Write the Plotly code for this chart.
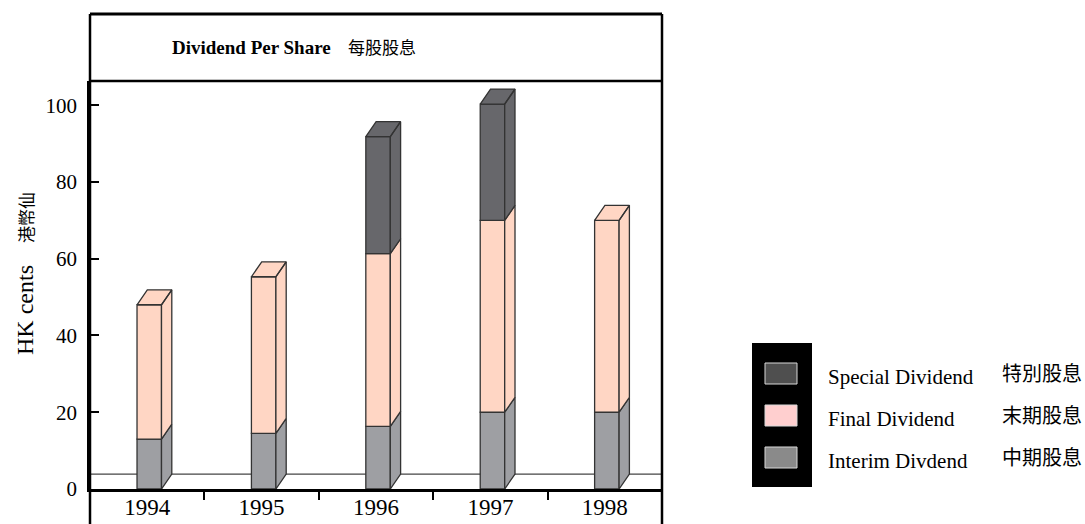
import plotly.graph_objects as go

# ---- data -------------------------------------------------------------
years = ["1994", "1995", "1996", "1997", "1998"]
interim = [13.0, 14.5, 16.3, 20.0, 20.0]      # HK cents
final = [35.0, 40.8, 45.0, 50.0, 50.0]
special = [0.0, 0.0, 30.5, 30.3, 0.0]
y_ticks = [0, 20, 40, 60, 80, 100]

legend_en = ["Special Dividend", "Final Dividend", "Interim Divdend"]
legend_zh = ["特別股息", "末期股息", "中期股息"]

# ---- style ------------------------------------------------------------
SERIF = "Liberation Serif, Times New Roman, serif"
CJK = "Noto Sans CJK TC, Noto Sans CJK SC, sans-serif"
EDGE = "#333333"
face_colors = {"interim": "#9e9fa3", "final": "#ffd6c4", "special": "#67676b"}
swatch_colors = ["#4f4f4f", "#ffcfcf", "#8a8a8a"]

W = 0.214        # front face width (category units)
SHIFT = 0.018    # front face offset from category centre
DX = 0.09        # depth, x (category units)
DY = 3.9         # depth, y (data units)

# plot-area pixel geometry, used to place frame / legend in paper coords
L, R, T, B = 90, 662, 81, 489


def px_x(p):
    return (p - L) / (R - L)


def px_y(p):
    return (B - p) / (B - T)


xs = list(range(len(years)))
stack = [("interim", interim), ("final", final), ("special", special)]

fig = go.Figure()

# front faces
bases = [0.0] * len(xs)
segments = []   # (colour key, x, bottom, top)
for key, vals in stack:
    ys = [v if v > 0 else None for v in vals]
    fig.add_trace(go.Bar(
        x=xs, y=ys, base=list(bases), width=W, offset=-W / 2 + SHIFT,
        marker=dict(color=face_colors[key], line=dict(color=EDGE, width=1.3)),
        showlegend=False, hoverinfo="skip"))
    for i, v in enumerate(vals):
        if v > 0:
            segments.append((key, i, bases[i], bases[i] + v))
            bases[i] += v

# side faces and top faces, one filled trace per colour
tops = {}
for key, i, b, t in segments:
    if i not in tops or t > tops[i][2]:
        tops[i] = (key, b, t)

for key, _ in stack:
    px, py = [], []
    for k, i, b, t in segments:
        if k != key:
            continue
        xr = i + SHIFT + W / 2
        px += [xr, xr + DX, xr + DX, xr, xr, None]
        py += [b, b + DY, t + DY, t, b, None]
    for i, (k, b, t) in tops.items():
        if k != key:
            continue
        xl = i + SHIFT - W / 2
        xr = i + SHIFT + W / 2
        px += [xl, xl + DX, xr + DX, xr, xl, None]
        py += [t, t + DY, t + DY, t, t, None]
    if px:
        fig.add_trace(go.Scatter(
            x=px, y=py, mode="lines", fill="toself",
            fillcolor=face_colors[key], line=dict(color=EDGE, width=1.3),
            showlegend=False, hoverinfo="skip"))

shapes = []
# back floor line
shapes.append(dict(type="line", xref="paper", yref="y", x0=0, x1=1, y0=DY, y1=DY,
                   line=dict(color="#444444", width=1.2), layer="below"))
# outer frame and title band
frame = dict(color="black", width=2.5)
shapes += [
    dict(type="line", xref="paper", yref="paper", x0=0, x1=0, y0=px_y(540), y1=px_y(14), line=frame),
    dict(type="line", xref="paper", yref="paper", x0=1, x1=1, y0=px_y(540), y1=px_y(14), line=frame),
    dict(type="line", xref="paper", yref="paper", x0=0, x1=1, y0=px_y(14), y1=px_y(14),
         line=dict(color="black", width=3)),
    dict(type="line", xref="paper", yref="paper", x0=0, x1=1, y0=1, y1=1, line=frame),
]
# legend panel
shapes.append(dict(type="rect", xref="paper", yref="paper",
                   x0=px_x(752), x1=px_x(812), y0=px_y(487), y1=px_y(343),
                   fillcolor="black", line=dict(width=0)))
sw_top = [363, 405, 447]
for c, top in zip(swatch_colors, sw_top):
    shapes.append(dict(type="rect", xref="paper", yref="paper",
                       x0=px_x(765), x1=px_x(797), y0=px_y(top + 21), y1=px_y(top),
                       fillcolor=c, line=dict(color="#d8d8d8", width=1)))

annotations = [
    dict(text="<b>Dividend Per Share</b>", xref="paper", yref="paper",
         x=px_x(333), y=px_y(47), xanchor="right", yanchor="middle", showarrow=False,
         font=dict(family=SERIF, size=19, color="black")),
    dict(text="每股股息", xref="paper", yref="paper",
         x=px_x(346), y=px_y(46), xanchor="left", yanchor="middle", showarrow=False,
         font=dict(family=CJK, size=17, color="black")),
    dict(text="HK cents", xref="paper", yref="paper", textangle=-90,
         x=px_x(25), y=px_y(310), xanchor="center", yanchor="middle", showarrow=False,
         font=dict(family=SERIF, size=24, color="black")),
    dict(text="港幣仙", xref="paper", yref="paper", textangle=-90,
         x=px_x(25), y=px_y(218), xanchor="center", yanchor="middle", showarrow=False,
         font=dict(family=CJK, size=17, color="black")),
]
for en, zh, top in zip(legend_en, legend_zh, sw_top):
    annotations.append(dict(text=en, xref="paper", yref="paper",
                            x=px_x(826), y=px_y(top + 14), xanchor="left", yanchor="middle",
                            showarrow=False, font=dict(family=SERIF, size=21, color="black")))
    annotations.append(dict(text=zh, xref="paper", yref="paper",
                            x=px_x(1000), y=px_y(top + 9), xanchor="left", yanchor="middle",
                            showarrow=False, font=dict(family=CJK, size=20, color="black")))

fig.update_layout(
    width=1085, height=524,
    margin=dict(l=L, r=1085 - R, t=T, b=524 - B),
    plot_bgcolor="white", paper_bgcolor="white",
    barmode="overlay", showlegend=False,
    shapes=shapes, annotations=annotations,
    xaxis=dict(range=[-0.5, 4.5], tickvals=xs, ticktext=years, ticks="",
               showgrid=False, zeroline=False, showline=True, automargin=False,
               linecolor="black", linewidth=2.5, ticklabelstandoff=-4,
               tickfont=dict(family=SERIF, size=23, color="black"),
               minor=dict(tickvals=[0.5, 1.5, 2.5, 3.5], ticks="outside",
                          ticklen=8, tickwidth=2, tickcolor="black", showgrid=False)),
    yaxis=dict(range=[0, 106.3], tickvals=y_ticks, ticks="inside", ticklen=9,
               tickwidth=2, tickcolor="black", showgrid=False, zeroline=False,
               showline=True, linecolor="black", linewidth=2.5, automargin=False,
               ticklabelstandoff=6,
               tickfont=dict(family=SERIF, size=21, color="black")),
)

fig.write_html("out.html")
